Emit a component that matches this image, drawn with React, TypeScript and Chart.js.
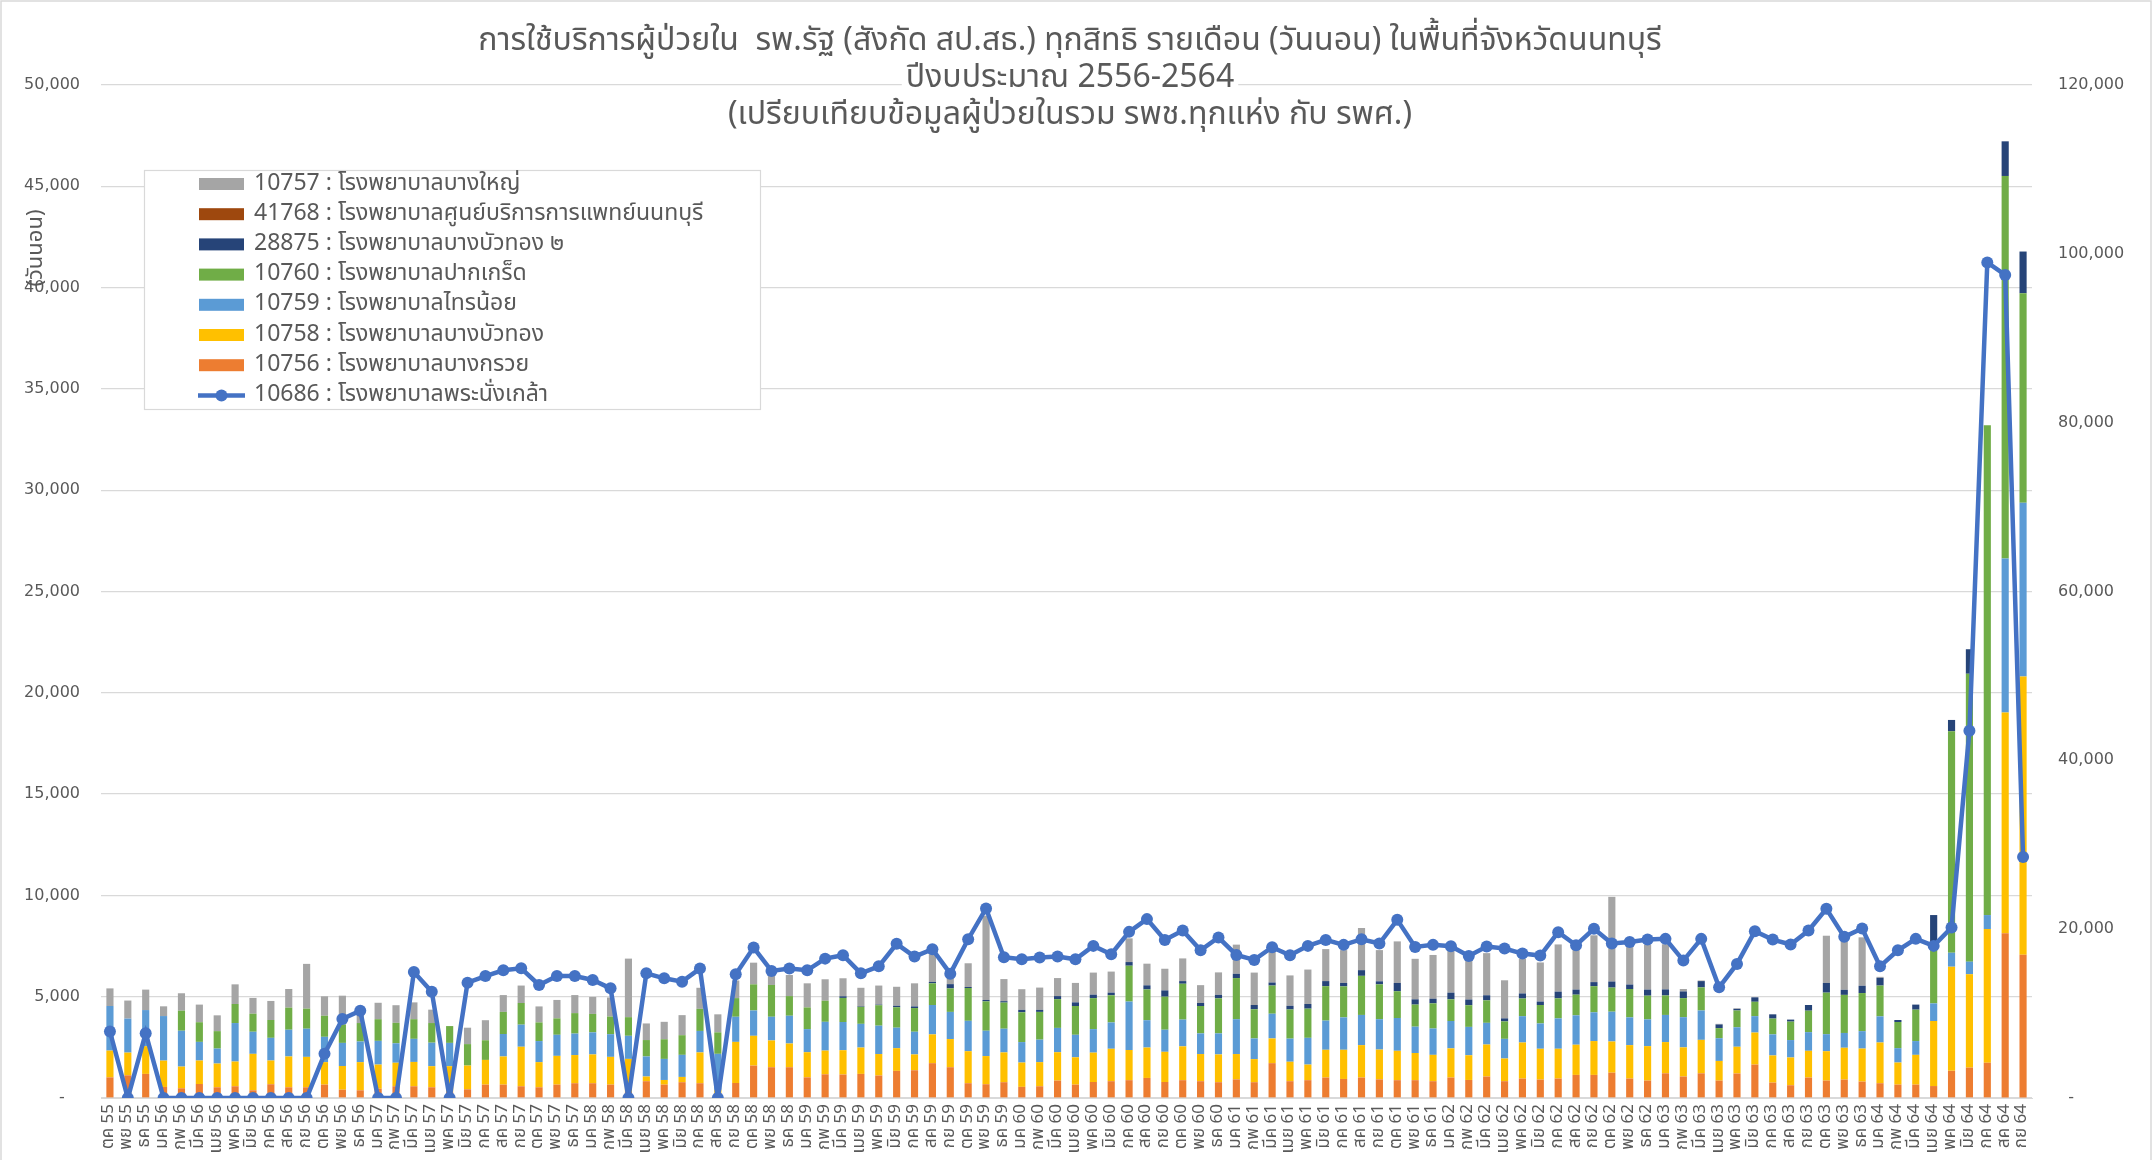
import React, { useEffect, useRef } from 'react';
import { Chart, registerables } from 'chart.js';

Chart.register(...registerables);

const W = 2152;
const H = 1160;
const THAI = '"Noto Sans Thai", "Leelawadee UI", Tahoma, "DejaVu Sans", "Noto Sans", sans-serif';
const NUM = '"DejaVu Sans", "Noto Sans", sans-serif';
const TXT = '#595959';
const GRID = '#D9D9D9';

const chartTitle = [
  'การใช้บริการผู้ป่วยใน  รพ.รัฐ (สังกัด สป.สธ.) ทุกสิทธิ รายเดือน (วันนอน) ในพื้นที่จังหวัดนนทบุรี',
  'ปีงบประมาณ 2556-2564',
  '(เปรียบเทียบข้อมูลผู้ป่วยในรวม รพช.ทุกแห่ง กับ รพศ.)',
];
const yTitle = '(วันนอน)';

const monthNames = ['ตค', 'พย', 'ธค', 'มค', 'กพ', 'มีค', 'เมย', 'พค', 'มิย', 'กค', 'สค', 'กย'];
const fiscalYears = [56, 57, 58, 59, 60, 61, 62, 63, 64];
const labels: string[] = fiscalYears.flatMap((fy) =>
  monthNames.map((m, i) => `${m} ${i < 3 ? fy - 1 : fy}`)
);

// 10756 : โรงพยาบาลบางกรวย
const orange10756 = [
  1020, 1120, 1190, 545, 480, 690, 530, 580, 380, 680, 530, 530, 660, 410, 380, 460, 580, 580, 530, 300,
  430, 660, 660, 580, 530, 660, 730, 730, 660, 300, 830, 660, 780, 730, 250, 740, 1600, 1520, 1520, 1020,
  1170, 1160, 1190, 1110, 1340, 1370, 1720, 1520, 730, 680, 780, 550, 580, 860, 660, 790, 830, 880, 990, 790,
  880, 830, 780, 920, 780, 1720, 830, 880, 1010, 940, 1010, 920, 880, 880, 830, 1010, 890, 1060, 830, 960,
  910, 960, 1140, 1140, 1250, 960, 860, 1220, 1060, 1220, 860, 1210, 1650, 760, 630, 1010, 860, 910, 810, 730,
  660, 660, 590, 1340, 1500, 1740, 8130, 7070,
];
// 10758 : โรงพยาบาลบางบัวทอง
const yellow10758 = [
  1320, 1120, 1370, 1300, 1070, 1160, 1170, 1220, 1800, 1170, 1520, 1500, 1110, 1170, 1390, 1190, 1160, 1200, 1040, 1270,
  1170, 1220, 1390, 1950, 1240, 1420, 1390, 1420, 1370, 1630, 230, 230, 260, 1520, 150, 2030, 1470, 1320, 1170, 1240,
  1170, 1200, 1300, 1060, 1120, 780, 1420, 1390, 1580, 1390, 1470, 1200, 1190, 1400, 1350, 1450, 1600, 1490, 1500, 1490,
  1670, 1340, 1370, 1250, 1140, 1220, 960, 770, 1370, 1440, 1600, 1470, 1450, 1340, 1300, 1440, 1220, 1580, 1120, 1780,
  1520, 1470, 1490, 1670, 1540, 1650, 1700, 1540, 1440, 1650, 970, 1320, 1580, 1340, 1370, 1320, 1450, 1570, 1630, 2010,
  1090, 1470, 3210, 5140, 4610, 6600, 10900, 13740,
];
// 10759 : โรงพยาบาลไทรน้อย
const blue10759 = [
  2200, 1680, 1780, 2200, 1770, 920, 740, 1900, 1090, 1120, 1320, 1390, 1250, 1140, 1020, 1170, 960, 1140, 1160, 1150,
  0, 0, 1110, 1090, 1040, 1040, 1060, 1090, 1120, 1140, 990, 1040, 1090, 1060, 1780, 1240, 1250, 1170, 1370, 1140,
  1420, 1390, 1170, 1400, 1010, 1120, 1450, 1340, 1500, 1250, 1170, 1010, 1110, 1200, 1110, 1160, 1300, 2390, 1350, 1090,
  1320, 1020, 1040, 1720, 1020, 1220, 1140, 1320, 1440, 1600, 1490, 1500, 1620, 1300, 1300, 1350, 1400, 1070, 970, 1300,
  1250, 1500, 1450, 1420, 1470, 1370, 1320, 1340, 1490, 1450, 1120, 960, 810, 1040, 860, 920, 840, 730, 860, 1290,
  710, 680, 870, 690, 620, 690, 7600, 8570,
];
// 10760 : โรงพยาบาลปากเกร็ด
const green10760 = [
  0, 0, 0, 0, 990, 970, 860, 940, 890, 880, 1090, 990, 1040, 910, 910, 1070, 1010, 970, 970, 830,
  1060, 970, 1090, 1070, 920, 810, 1010, 910, 870, 920, 810, 970, 970, 1090, 1060, 920, 1290, 1570, 970, 1070,
  1040, 1190, 840, 1010, 1010, 1170, 1070, 1160, 1620, 1450, 1290, 1470, 1370, 1420, 1420, 1530, 1340, 1770, 1520, 1630,
  1770, 1350, 1730, 2030, 1440, 1390, 1440, 1440, 1700, 1530, 1930, 1720, 1320, 1090, 1240, 1070, 1070, 1110, 860, 870,
  910, 990, 1020, 1290, 1190, 1400, 1170, 960, 940, 1140, 500, 830, 710, 780, 910, 1060, 2050, 1880, 1880, 1520,
  1290, 1550, 2930, 10930, 14210, 24170, 18880, 10340,
];
// 28875 : โรงพยาบาลบางบัวทอง ๒
const navy28875 = [
  0, 0, 0, 0, 0, 0, 0, 0, 0, 0, 0, 0, 0, 0, 0, 0, 0, 0, 0, 0,
  0, 0, 0, 0, 0, 0, 0, 0, 0, 0, 0, 0, 0, 0, 0, 0, 0, 0, 0, 0,
  0, 80, 30, 30, 70, 80, 70, 210, 50, 70, 70, 120, 100, 150, 180, 170, 130, 180, 200, 310,
  130, 150, 170, 210, 210, 150, 180, 230, 250, 170, 280, 150, 410, 260, 230, 330, 280, 250, 150, 250,
  170, 330, 250, 200, 300, 220, 300, 300, 330, 310, 180, 80, 220, 210, 100, 280, 480, 250, 360, 380,
  100, 250, 1430, 560, 1210, 0, 1710, 2060,
];
// 41768 : โรงพยาบาลศูนย์บริการการแพทย์นนทบุรี
const brown41768 = labels.map(() => 0);
// 10757 : โรงพยาบาลบางใหญ่
const gray10757 = [
  870, 890, 1010, 480, 860, 870, 780, 970, 780, 940, 920, 2210, 960, 1420, 500, 810, 870, 830, 660, 0,
  810, 990, 830, 860, 790, 910, 890, 840, 940, 2890, 820, 860, 990, 1040, 890, 870, 1070, 480, 1040, 1190,
  1060, 890, 910, 940, 940, 1140, 1370, 690, 1170, 4160, 1090, 1020, 1100, 890, 960, 1090, 1040, 1170, 1070, 1070,
  1120, 880, 1110, 1440, 1600, 1610, 1500, 1700, 1580, 1620, 2080, 1540, 2050, 2000, 2160, 2060, 1980, 2080, 1880, 1720,
  1930, 2330, 1980, 2310, 4180, 1900, 2230, 2230, 120, 30, 30, 30, 0, 0, 0, 0, 2330, 2410, 2390, 50,
  0, 0, 0, 0, 0, 0, 0, 0,
];
// 10686 : โรงพยาบาลพระนั่งเกล้า (right axis)
const line10686 = [
  7880, 0, 7680, 0, 0, 0, 0, 0, 0, 0, 0, 0, 5230, 9350, 10340, 0, 0, 14930, 12590, 0,
  13660, 14450, 15130, 15370, 13390, 14450, 14450, 13980, 12990, 0, 14770, 14180, 13780, 15330, 0, 14650, 17820, 15050, 15330, 15130,
  16510, 16910, 14770, 15600, 18260, 16750, 17620, 14730, 18810, 22450, 16670, 16430, 16630, 16750, 16430, 18020, 17030, 19680, 21190, 18730,
  19840, 17500, 19010, 16950, 16360, 17860, 16910, 18020, 18730, 18140, 18810, 18300, 21110, 17900, 18140, 17980, 16830, 17940, 17700, 17110,
  16870, 19640, 18100, 20040, 18300, 18490, 18770, 18850, 16280, 18850, 13110, 15880, 19760, 18770, 18180, 19840, 22410, 19090, 20080, 15600,
  17500, 18850, 18020, 20190, 43510, 98980, 97490, 28560,
];

const barSeries = [
  { label: '10756 : โรงพยาบาลบางกรวย', data: orange10756, color: '#ED7D31' },
  { label: '10758 : โรงพยาบาลบางบัวทอง', data: yellow10758, color: '#FFC000' },
  { label: '10759 : โรงพยาบาลไทรน้อย', data: blue10759, color: '#5B9BD5' },
  { label: '10760 : โรงพยาบาลปากเกร็ด', data: green10760, color: '#70AD47' },
  { label: '28875 : โรงพยาบาลบางบัวทอง ๒', data: navy28875, color: '#264478' },
  { label: '41768 : โรงพยาบาลศูนย์บริการการแพทย์นนทบุรี', data: brown41768, color: '#9E480E' },
  { label: '10757 : โรงพยาบาลบางใหญ่', data: gray10757, color: '#A5A5A5' },
];
const lineSeries = { label: '10686 : โรงพยาบาลพระนั่งเกล้า', data: line10686, color: '#4472C4' };

const fmt = (v: number) => (v === 0 ? '-   ' : v.toLocaleString('en-US'));
const fmtR = (v: number) => (v === 0 ? '  -' : v.toLocaleString('en-US'));

const decorPlugin = {
  id: 'decor',
  afterDraw(chart: any) {
    const ctx = chart.ctx as CanvasRenderingContext2D;
    ctx.save();
    // outer border
    ctx.strokeStyle = GRID;
    ctx.lineWidth = 1.5;
    ctx.strokeRect(1, 1, W - 2, H + 10);

    // title
    ctx.font = `32px ${THAI}`;
    ctx.textAlign = 'center';
    ctx.textBaseline = 'middle';
    const ys = [44, 81, 118];
    chartTitle.forEach((t, i) => {
      const w = ctx.measureText(t).width;
      ctx.fillStyle = '#ffffff';
      ctx.fillRect(1070 - w / 2 - 4, ys[i] - 16, w + 8, 32);
      ctx.fillStyle = TXT;
      ctx.fillText(t, 1070, ys[i]);
    });

    // y axis title
    ctx.save();
    ctx.translate(38, 248);
    ctx.rotate(-Math.PI / 2);
    ctx.font = `22px ${THAI}`;
    ctx.fillStyle = TXT;
    ctx.fillText(yTitle, 0, 0);
    ctx.restore();

    // legend
    ctx.fillStyle = '#ffffff';
    ctx.fillRect(144, 170, 616, 239);
    ctx.strokeStyle = GRID;
    ctx.lineWidth = 1.2;
    ctx.strokeRect(144.5, 170.5, 616, 239);
    const items = [...barSeries].reverse();
    ctx.font = `23px ${THAI}`;
    ctx.textAlign = 'left';
    ctx.textBaseline = 'middle';
    items.forEach((s, i) => {
      const y = 184 + 30.2 * i;
      ctx.fillStyle = s.color;
      ctx.fillRect(199, y - 6, 45, 12);
      ctx.fillStyle = TXT;
      ctx.fillText(s.label, 254, y + 1);
    });
    const ly = 184 + 30.2 * 7;
    ctx.strokeStyle = lineSeries.color;
    ctx.lineWidth = 4.5;
    ctx.beginPath();
    ctx.moveTo(198, ly);
    ctx.lineTo(245, ly);
    ctx.stroke();
    ctx.fillStyle = lineSeries.color;
    ctx.beginPath();
    ctx.arc(221.5, ly, 6, 0, Math.PI * 2);
    ctx.fill();
    ctx.fillStyle = TXT;
    ctx.fillText(lineSeries.label, 254, ly + 1);
    ctx.restore();
  },
};

export default function App() {
  const ref = useRef<HTMLCanvasElement>(null);
  useEffect(() => {
    const datasets: any[] = [
      {
        type: 'line',
        label: lineSeries.label,
        data: lineSeries.data,
        yAxisID: 'y1',
        borderColor: lineSeries.color,
        backgroundColor: lineSeries.color,
        borderWidth: 4.5,
        pointRadius: 6,
        pointBorderWidth: 0,
        pointBackgroundColor: lineSeries.color,
        tension: 0,
        order: 0,
      },
      ...barSeries.map((s) => ({
        type: 'bar',
        label: s.label,
        data: s.data,
        backgroundColor: s.color,
        borderWidth: 0,
        yAxisID: 'y',
        stack: 'a',
        barPercentage: 0.4,
        categoryPercentage: 1,
        order: 1,
      })),
    ];
    const chart = new Chart(ref.current as HTMLCanvasElement, {
      type: 'bar',
      data: { labels, datasets },
      options: {
        responsive: false,
        devicePixelRatio: 1,
        animation: false,
        layout: { padding: { top: 85, left: 0, right: 0, bottom: 0 } },
        plugins: {
          legend: { display: false },
          title: { display: false },
          tooltip: { enabled: false },
        },
        scales: {
          x: {
            stacked: true,
            grid: { display: false, drawTicks: false },
            border: { display: true, color: GRID, width: 1 },
            ticks: {
              autoSkip: false,
              maxRotation: 90,
              minRotation: 90,
              padding: 6,
              color: TXT,
              font: { family: THAI, size: 17 },
            },
            afterFit: (s: any) => {
              s.height = 62;
            },
          },
          y: {
            stacked: true,
            min: 0,
            max: 50000,
            grid: { color: GRID, lineWidth: 1.2, drawTicks: false },
            border: { display: false },
            ticks: {
              stepSize: 5000,
              padding: 21,
              color: TXT,
              font: { family: NUM, size: 16 },
              callback: (v: any) => fmt(Number(v)),
            },
            afterFit: (s: any) => {
              s.width = 101;
            },
          },
          y1: {
            position: 'right',
            min: 0,
            max: 120000,
            grid: { drawOnChartArea: false, drawTicks: false },
            border: { display: false },
            ticks: {
              stepSize: 20000,
              padding: 26,
              color: TXT,
              font: { family: NUM, size: 16 },
              callback: (v: any) => fmtR(Number(v)),
            },
            afterFit: (s: any) => {
              s.width = 120;
            },
          },
        },
      } as any,
      plugins: [decorPlugin],
    });
    return () => chart.destroy();
  }, []);
  return (
    <div style={{ position: 'fixed', left: 0, top: 0, width: W, height: H, background: '#ffffff' }}>
      <canvas ref={ref} width={W} height={H} style={{ width: W, height: H, display: 'block' }} />
    </div>
  );
}
